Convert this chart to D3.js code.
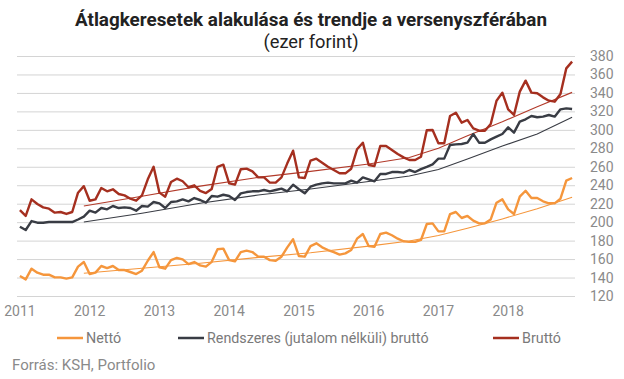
<!DOCTYPE html>
<html>
<head>
<meta charset="utf-8">
<script src="https://cdn.jsdelivr.net/npm/d3@7"></script>
<style>
  body { margin: 0; background: #fff; }
  svg text { font-family: Roboto, "Open Sans", sans-serif; }
</style>
</head>
<body>
<svg id="chart" width="624" height="379"></svg>
<script>
// havi adatok, 2011 jan - 2018 dec (ezer forint)
const years = ['2011', '2012', '2013', '2014', '2015', '2016', '2017', '2018'];
const y_ticks = [120, 140, 160, 180, 200, 220, 240, 260, 280, 300, 320, 340, 360, 380];

const netto = [141.6, 138, 149.6, 145.3, 143.1, 143.1, 140.2, 140.2, 138.8, 140.2, 151.8, 156.8,
	143.8, 145.3, 152.5, 150.3, 152.5, 148.1, 148.1, 146, 143.8, 147.4, 158.2, 167.6,
	151.1, 149.6, 158.9, 161.2, 159.7, 154.6, 156.8, 153.2, 151.8, 157, 170.6, 171.3,
	158.9, 157.5, 167.6, 169.1, 167.6, 162.6, 162.6, 158.9, 158.2, 162.6, 172.7, 181.4,
	163.3, 162.6, 174.1, 177.1, 172.7, 169.8, 167.6, 164.8, 166.2, 169.8, 182.1, 187.2,
	174.1, 173.3, 187.2, 188.6, 185.8, 182.1, 179.3, 178.6, 178.6, 180.7, 198, 198.7,
	190, 190, 208.8, 211, 204.5, 206.7, 201.6, 198.7, 198.7, 203, 221.1, 224.7,
	213.9, 208.8, 227.6, 234, 226.1, 226.1, 222.6, 220.4, 220.4, 225.4, 244.9, 247.8];

const rendszeres = [195.1, 191.5, 201.2, 199.4, 199.4, 200.1, 200.1, 200.1, 200.1, 200.1, 202.9, 205.9,
	212.4, 210.3, 215.3, 213.9, 217.5, 215.3, 216, 215.3, 212.4, 217.5, 216.8, 221.8,
	220.4, 215.3, 221.8, 222.5, 224.7, 222.5, 226.1, 224, 221.1, 228.3, 227.6, 229.7,
	228.3, 224, 231.2, 232.6, 233.4, 233.4, 234.8, 233.4, 234.8, 236.3, 233.4, 240.6,
	235.6, 231.2, 238.4, 240.6, 242, 242.8, 242, 242, 242, 244.9, 242.8, 248.5,
	246.4, 244.2, 252.2, 252.2, 254.3, 254.3, 253.6, 256.5, 254.3, 257.5, 259.8, 262.5,
	268.8, 268.8, 283.6, 284.3, 284.7, 286.1, 295.5, 286.1, 286.1, 289.7, 292.6, 295.5,
	302.7, 297, 308.9, 311.4, 315, 313.6, 314.3, 316.1, 314.3, 322.2, 323.3, 322.6];

const brutto = [213, 206.7, 224.7, 219.7, 216, 214.6, 210.3, 211, 208.9, 211, 231.9, 239,
	223.2, 224.7, 237, 233.4, 235.6, 230.5, 229, 225.4, 223.2, 229, 246.4, 260,
	232, 227.6, 243.5, 247.1, 244.3, 237.8, 239.9, 234, 231.5, 236, 260, 262.3,
	242.1, 240.6, 257.3, 258, 255, 248.6, 248.5, 242.8, 242.8, 248.5, 263.7, 277.4,
	248.5, 247.8, 266.6, 268.8, 264.4, 260.1, 256.5, 252.9, 252.9, 257.9, 278.9, 286.1,
	261.9, 260.8, 282.5, 282.5, 278.2, 273.8, 270.2, 267.3, 267.3, 270.9, 299.5, 299.8,
	285.4, 285.4, 315, 318.6, 307.8, 310.7, 301.6, 299.1, 299.1, 306.3, 331.6, 340.3,
	322.2, 316.1, 341.4, 353.3, 340.3, 339.6, 335.2, 331.6, 330.5, 338.8, 366.6, 373.9];

// trendvonalak: honap-index es ertek
const trend_months = [11, 21, 31, 41, 50, 60, 67, 72, 77, 83, 89, 95];
const netto_trend = [144.6, 150, 155.4, 161.8, 166.8, 174, 179.5, 185.5, 193.3, 203.5, 214.5, 227];
const rendszeres_trend = [200.2, 209.6, 220.4, 229.4, 236, 244, 250, 257, 268.5, 282.5, 295.5, 313.6];
const brutto_trend = [217.5, 228, 239, 248.5, 255, 263, 270, 280, 293.6, 308.8, 325, 340.6];

const series = [
	{name: 'Nettó', color: '#f5963c', values: netto, trend: netto_trend, trend_color: '#f5963c'},
	{name: 'Rendszeres (jutalom nélküli) bruttó', color: '#393c44', values: rendszeres, trend: rendszeres_trend, trend_color: '#393c44'},
	{name: 'Bruttó', color: '#a52f1f', values: brutto, trend: brutto_trend, trend_color: '#b23a2a'}
];

const svg = d3.select('#chart');
const plot_left = 17, plot_right = 575, plot_top = 56, plot_bottom = 296;

const months = d3.range(netto.length);
const x = d3.scaleBand().domain(months).range([plot_left, plot_right]);
const xc = i => x(i) + x.bandwidth() / 2;
const y = d3.scaleLinear().domain([120, 380]).range([plot_bottom, plot_top]);

// title
svg.append('text')
	.attr('x', 311).attr('y', 26)
	.attr('text-anchor', 'middle')
	.attr('font-size', 18).attr('font-weight', 'bold')
	.attr('fill', '#222')
	.attr('textLength', 472).attr('lengthAdjust', 'spacingAndGlyphs')
	.text('Átlagkeresetek alakulása és trendje a versenyszférában');

svg.append('text')
	.attr('x', 311).attr('y', 48)
	.attr('text-anchor', 'middle')
	.attr('font-size', 18)
	.attr('fill', '#222')
	.attr('textLength', 95).attr('lengthAdjust', 'spacingAndGlyphs')
	.text('(ezer forint)');

// grid + y axis on the right
const yAxis = d3.axisRight(y).tickValues(y_ticks).tickSize(plot_right - plot_left).tickPadding(15);
const gy = svg.append('g').attr('transform', 'translate(' + plot_left + ',0)').call(yAxis);
gy.select('.domain').remove();
gy.selectAll('.tick line').attr('stroke', '#d4d4d4').attr('stroke-width', 1);
gy.selectAll('.tick text').attr('fill', '#8a8a8a').attr('font-size', 14)
	.attr('font-family', 'Roboto, sans-serif');

// x axis labels (January of each year)
const jan = years.map((yr, k) => k * 12);
const xAxis = d3.axisBottom(x).tickValues(jan).tickFormat((d, k) => years[k]).tickSize(0).tickPadding(10);
const gx = svg.append('g').attr('transform', 'translate(0,' + plot_bottom + ')').call(xAxis);
gx.select('.domain').remove();
gx.selectAll('.tick text').attr('fill', '#8a8a8a').attr('font-size', 14)
	.attr('font-family', 'Roboto, sans-serif');

// trend lines
const trendLine = d3.line().x(d => xc(d[0])).y(d => y(d[1]));
series.forEach(function (s) {
	svg.append('path')
		.datum(trend_months.map((m, k) => [m, s.trend[k]]))
		.attr('d', trendLine)
		.attr('fill', 'none')
		.attr('stroke', s.trend_color)
		.attr('stroke-width', 1.1);
});

// data lines
const line = d3.line().x((d, i) => xc(i)).y(d => y(d));
series.forEach(function (s) {
	svg.append('path')
		.datum(s.values)
		.attr('d', line)
		.attr('fill', 'none')
		.attr('stroke', s.color)
		.attr('stroke-width', 2.4)
		.attr('stroke-linejoin', 'round');
});

// legend
const legend_x = [57, 178, 493];
series.forEach(function (s, k) {
	const g = svg.append('g').attr('transform', 'translate(' + legend_x[k] + ',338)');
	g.append('line').attr('x1', 0).attr('x2', 26).attr('y1', 0).attr('y2', 0)
		.attr('stroke', s.color).attr('stroke-width', 2.5);
	g.append('text').attr('x', 29).attr('y', 5)
		.attr('font-size', 14.3).attr('fill', '#7a7a7a')
		.text(s.name);
});

// source
svg.append('text')
	.attr('x', 12).attr('y', 370)
	.attr('font-size', 15).attr('fill', '#8a8a8a')
	.text('Forrás: KSH, Portfolio');
</script>
</body>
</html>
